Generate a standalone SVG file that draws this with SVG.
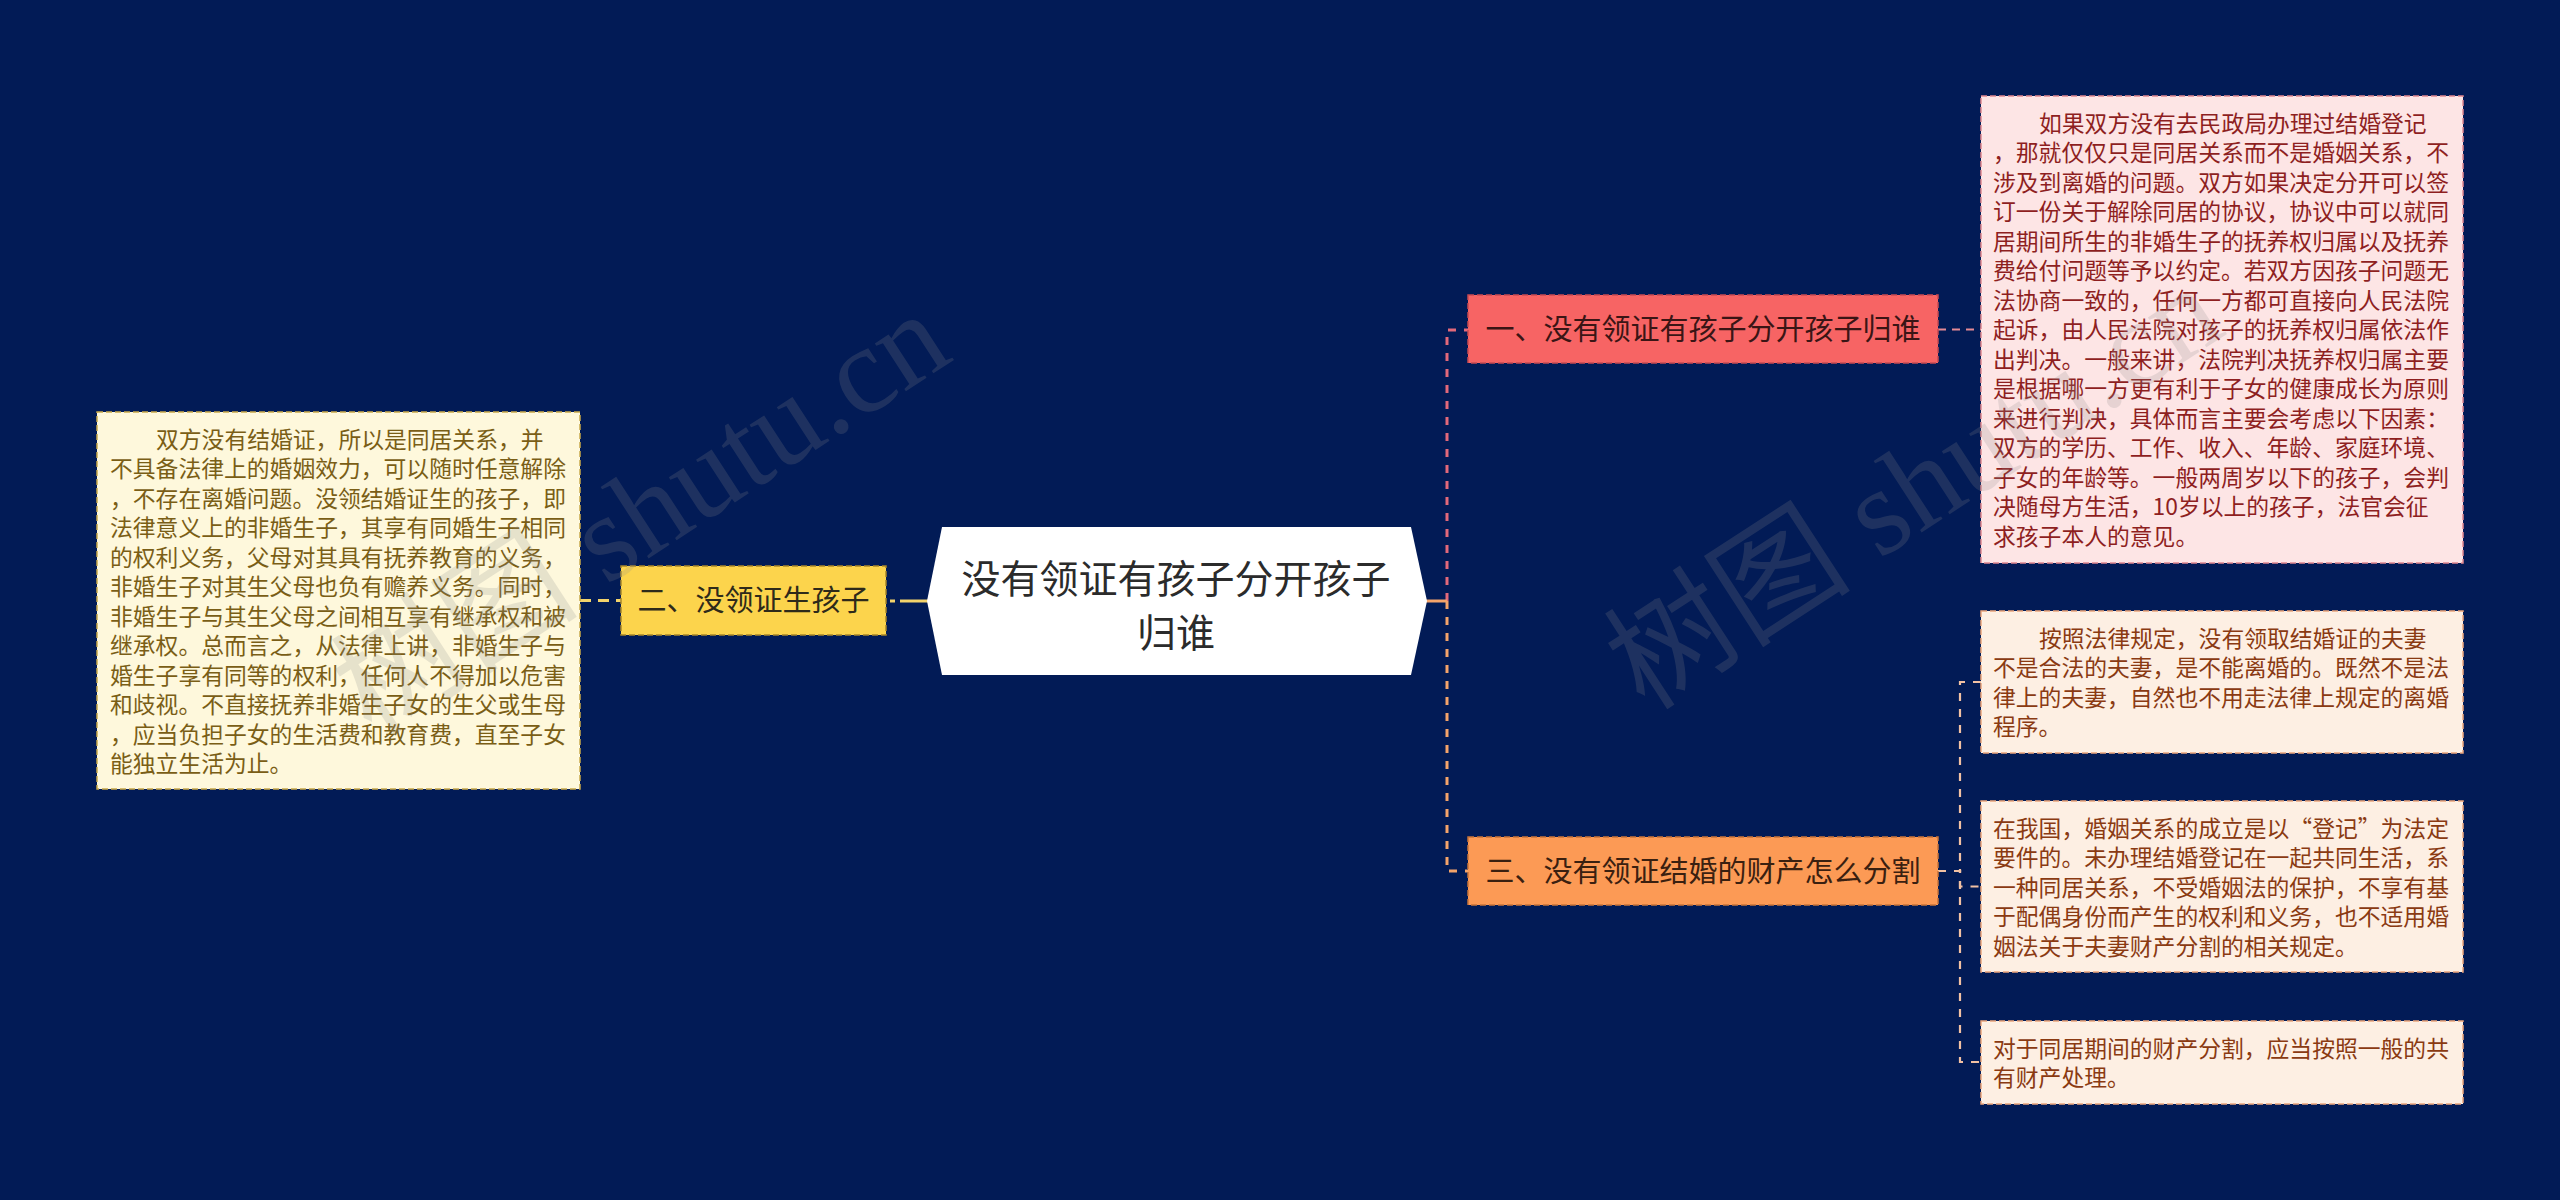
<svg xmlns="http://www.w3.org/2000/svg" width="2560" height="1200" viewBox="0 0 2560 1200">
<defs>
<style>
text{font-family:"Noto Sans CJK SC","Noto Sans",sans-serif}
.body{font-size:22.8px}
.topic{font-size:29px;text-anchor:middle}
.c-left{fill:#7a5e16}
.c-pink{fill:#8e1f1f}
.c-peach{fill:#8a3a12}
.box{stroke-width:1.5;stroke-dasharray:6 3}
.wm{font-family:"Liberation Serif","Noto Sans CJK SC",serif;font-size:124px;fill:#8c8c8c;opacity:0.2}
</style>
</defs>
<rect width="2560" height="1200" fill="#021b56"/>

<g id="connectors" fill="none" stroke-width="3">
  <path d="M580 600.5 H621" stroke="#f3d36b" stroke-dasharray="11 7"/>
  <path d="M929 601 H886" stroke="#f3d36b" stroke-dasharray="29 5 5 10"/>
  <path d="M1447 601 V330 H1468" stroke="#e2697a" stroke-dasharray="8 8"/>
  <path d="M1447 601 V871 H1468" stroke="#f4a46a" stroke-dasharray="8 8"/>
  <path d="M1426 601 H1447" stroke="#f4a46a"/>
  <path d="M1938 329.5 H1981" stroke="#e58a94" stroke-width="2" stroke-dasharray="8 6"/>
  <path d="M1938 871 H1960 V682 H1981" stroke="#f2c1a3" stroke-width="2.2" stroke-dasharray="8 8"/>
  <path d="M1938 871 H1960 V886.5 H1981" stroke="#f2c1a3" stroke-width="2.2" stroke-dasharray="8 8"/>
  <path d="M1938 871 H1960 V1062 H1981" stroke="#f2c1a3" stroke-width="2.2" stroke-dasharray="8 8"/>
</g>

<g id="root">
  <polygon points="942,527 1411,527 1427,601 1411,675 942,675 927,601" fill="#ffffff"/>
  <text x="1176" y="593" font-size="39" text-anchor="middle" fill="#2b2b2b">没有领证有孩子分开孩子</text>
  <text x="1176" y="647" font-size="39" text-anchor="middle" fill="#2b2b2b">归谁</text>
</g>

<g id="topic-2">
  <rect class="box" x="621" y="566" width="265" height="69" fill="#fcd44c" stroke="#a8862a"/>
  <text class="topic" x="753.5" y="611" fill="#2e2a1a">二、没领证生孩子</text>
</g>

<g id="detail-2">
  <rect class="box" x="97" y="412" width="483" height="377" fill="#fef8dc" stroke="#c9a94a"/>
  <text class="body c-left" y="447.5">
    <tspan x="156">双方没有结婚证，所以是同居关系，并</tspan>
    <tspan x="110" dy="29.5">不具备法律上的婚姻效力，可以随时任意解除</tspan>
    <tspan x="110" dy="29.5">，不存在离婚问题。没领结婚证生的孩子，即</tspan>
    <tspan x="110" dy="29.5">法律意义上的非婚生子，其享有同婚生子相同</tspan>
    <tspan x="110" dy="29.5">的权利义务，父母对其具有抚养教育的义务，</tspan>
    <tspan x="110" dy="29.5">非婚生子对其生父母也负有赡养义务。同时，</tspan>
    <tspan x="110" dy="29.5">非婚生子与其生父母之间相互享有继承权和被</tspan>
    <tspan x="110" dy="29.5">继承权。总而言之，从法律上讲，非婚生子与</tspan>
    <tspan x="110" dy="29.5">婚生子享有同等的权利，任何人不得加以危害</tspan>
    <tspan x="110" dy="29.5">和歧视。不直接抚养非婚生子女的生父或生母</tspan>
    <tspan x="110" dy="29.5">，应当负担子女的生活费和教育费，直至子女</tspan>
    <tspan x="110" dy="29.5">能独立生活为止。</tspan>
  </text>
</g>

<g id="topic-1">
  <rect class="box" x="1468" y="295" width="470" height="68" fill="#f76464" stroke="#c84a52"/>
  <text class="topic" x="1703" y="340" fill="#3a1515">一、没有领证有孩子分开孩子归谁</text>
</g>

<g id="detail-1">
  <rect class="box" x="1981" y="96" width="482" height="467" fill="#fde5e5" stroke="#e08890"/>
  <text class="body c-pink" y="131.5">
    <tspan x="2039">如果双方没有去民政局办理过结婚登记</tspan>
    <tspan x="1993" dy="29.5">，那就仅仅只是同居关系而不是婚姻关系，不</tspan>
    <tspan x="1993" dy="29.5">涉及到离婚的问题。双方如果决定分开可以签</tspan>
    <tspan x="1993" dy="29.5">订一份关于解除同居的协议，协议中可以就同</tspan>
    <tspan x="1993" dy="29.5">居期间所生的非婚生子的抚养权归属以及抚养</tspan>
    <tspan x="1993" dy="29.5">费给付问题等予以约定。若双方因孩子问题无</tspan>
    <tspan x="1993" dy="29.5">法协商一致的，任何一方都可直接向人民法院</tspan>
    <tspan x="1993" dy="29.5">起诉，由人民法院对孩子的抚养权归属依法作</tspan>
    <tspan x="1993" dy="29.5">出判决。一般来讲，法院判决抚养权归属主要</tspan>
    <tspan x="1993" dy="29.5">是根据哪一方更有利于子女的健康成长为原则</tspan>
    <tspan x="1993" dy="29.5">来进行判决，具体而言主要会考虑以下因素：</tspan>
    <tspan x="1993" dy="29.5">双方的学历、工作、收入、年龄、家庭环境、</tspan>
    <tspan x="1993" dy="29.5">子女的年龄等。一般两周岁以下的孩子，会判</tspan>
    <tspan x="1993" dy="29.5">决随母方生活，10岁以上的孩子，法官会征</tspan>
    <tspan x="1993" dy="29.5">求孩子本人的意见。</tspan>
  </text>
</g>

<g id="topic-3">
  <rect class="box" x="1468" y="837" width="470" height="68" fill="#fc9a55" stroke="#c8743a"/>
  <text class="topic" x="1703" y="882" fill="#3a2010">三、没有领证结婚的财产怎么分割</text>
</g>

<g id="detail-3a">
  <rect class="box" x="1981" y="611" width="482" height="142" fill="#fdefe3" stroke="#eaa57c"/>
  <text class="body c-peach" y="646.5">
    <tspan x="2039">按照法律规定，没有领取结婚证的夫妻</tspan>
    <tspan x="1993" dy="29.5">不是合法的夫妻，是不能离婚的。既然不是法</tspan>
    <tspan x="1993" dy="29.5">律上的夫妻，自然也不用走法律上规定的离婚</tspan>
    <tspan x="1993" dy="29.5">程序。</tspan>
  </text>
</g>

<g id="detail-3b">
  <rect class="box" x="1981" y="801" width="482" height="171" fill="#fdefe3" stroke="#eaa57c"/>
  <text class="body c-peach" y="836.5">
    <tspan x="1993">在我国，婚姻关系的成立是以“登记”为法定</tspan>
    <tspan x="1993" dy="29.5">要件的。未办理结婚登记在一起共同生活，系</tspan>
    <tspan x="1993" dy="29.5">一种同居关系，不受婚姻法的保护，不享有基</tspan>
    <tspan x="1993" dy="29.5">于配偶身份而产生的权利和义务，也不适用婚</tspan>
    <tspan x="1993" dy="29.5">姻法关于夫妻财产分割的相关规定。</tspan>
  </text>
</g>

<g id="detail-3c">
  <rect class="box" x="1981" y="1021" width="482" height="83" fill="#fdefe3" stroke="#eaa57c"/>
  <text class="body c-peach" y="1056.5">
    <tspan x="1993">对于同居期间的财产分割，应当按照一般的共</tspan>
    <tspan x="1993" dy="29.5">有财产处理。</tspan>
  </text>
</g>

<g id="watermark">
  <text class="wm" transform="translate(372,738) rotate(-33)">树图 shutu.cn</text>
  <text class="wm" transform="translate(1645,712) rotate(-33)">树图 shutu.cn</text>
</g>
</svg>
